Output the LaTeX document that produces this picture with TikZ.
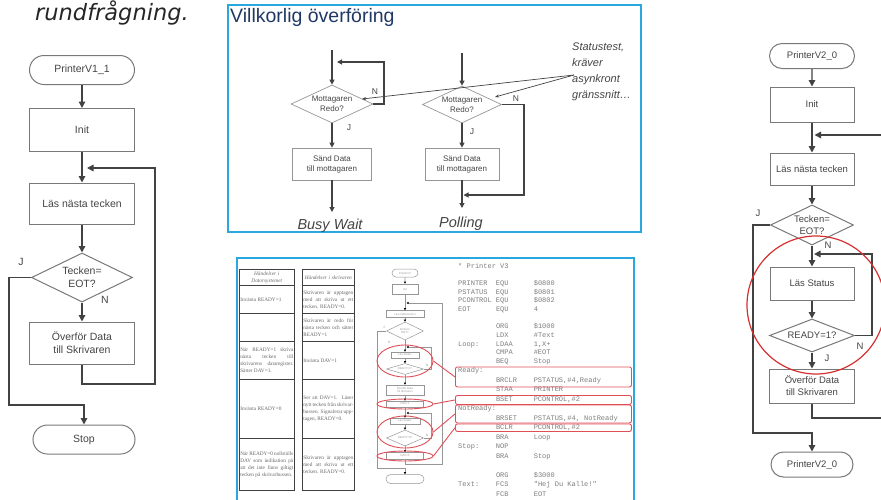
\documentclass[tikz,border=0pt]{standalone}
\usepackage{fontspec}
\setmainfont{Liberation Sans}
\newfontfamily\dvobl{DejaVu Sans Oblique}
\newfontfamily\monofont{Liberation Mono}
\newfontfamily\seriffont{Liberation Serif}
\usetikzlibrary{arrows.meta,shapes.geometric,shapes.misc}
\definecolor{frameblue}{RGB}{41,168,224}
\definecolor{redl}{RGB}{224,78,88}
\definecolor{redc}{RGB}{214,48,48}
\definecolor{lineg}{RGB}{66,66,66}
\definecolor{boxg}{RGB}{120,120,120}
\definecolor{txtg}{RGB}{68,68,68}
\definecolor{titleblue}{RGB}{32,56,100}
\definecolor{codeg}{RGB}{125,125,125}
\definecolor{lightg}{RGB}{150,150,150}
\begin{document}
\begin{tikzpicture}[x=1pt,y=-1pt,
  flow/.style={draw=lineg, line width=1.4pt},
  arr/.style={flow, -{Triangle[length=6.5pt,width=6.5pt]}},
  fbox/.style={draw=boxg, line width=1pt, rectangle, inner sep=0pt, align=center, text=txtg, font=\fontsize{10.5}{13}\selectfont},
  term/.style={fbox, rounded rectangle},
  dec/.style={fbox, diamond},
  lbl/.style={text=txtg, inner sep=0pt, font=\fontsize{10.5}{12}\selectfont},
  vflow/.style={draw=lineg, line width=1.1pt},
  varr/.style={vflow, -{Triangle[length=5pt,width=5pt]}},
  vbox/.style={draw=lightg, line width=0.7pt, rectangle, inner sep=0pt, align=center, text=txtg, font=\fontsize{8}{10}\selectfont},
  vdec/.style={vbox, diamond},
  vlbl/.style={text=txtg, inner sep=0pt, font=\fontsize{8.5}{10}\selectfont},
  notetext/.style={text=txtg, inner sep=0pt, align=left, font=\itshape\fontsize{11}{16}\selectfont},
  notearr/.style={draw=lineg, line width=0.7pt, -{Stealth[length=4pt,width=3pt]}},
  blueframe/.style={draw=frameblue, line width=1.4pt},
  cell/.style={draw=black!75, line width=0.6pt, rectangle, inner sep=1pt, anchor=north west, align=justify, text=black!60, font=\seriffont\fontsize{5.3}{7}\selectfont},
  mflow/.style={draw=lightg, line width=0.6pt},
  marr/.style={mflow, -{Triangle[length=2.2pt,width=2.2pt,color=black]}},
  mbox/.style={draw=lightg, line width=0.5pt, rectangle, inner sep=0pt, align=center, text=lightg, font=\fontsize{2.8}{3.2}\selectfont},
  mterm/.style={mbox, rounded rectangle},
  mdec/.style={mbox, diamond},
  mlbl/.style={text=lightg, inner sep=0pt, font=\fontsize{3.2}{4}\selectfont},
  redell/.style={draw=redl, line width=0.9pt, ellipse, inner sep=0pt},
  redbox/.style={draw=redl, line width=0.9pt, rectangle, rounded corners=2pt, inner sep=0pt, anchor=north west},
  redln/.style={draw=redl, line width=0.9pt},
]
\useasboundingbox (0,0) rectangle (881,499);

% ---------------- left flowchart ----------------
\node[anchor=base west, text=black!85, inner sep=0pt, font=\dvobl\fontsize{22.5}{26}\selectfont] (head) at (35,20.7) {rundfrågning.};
\node[term, minimum width=105pt, minimum height=29pt] (a1) at (82,70) {PrinterV1\_1};
\node[fbox, minimum width=105pt, minimum height=43pt] (a2) at (82,130) {Init};
\node[fbox, minimum width=105pt, minimum height=41pt] (a3) at (82,203.5) {Läs nästa tecken};
\node[dec, aspect=2.06, minimum width=101pt, minimum height=49pt] (a4) at (82,277.5) {Tecken=\\EOT?};
\node[fbox, minimum width=105pt, minimum height=42pt] (a5) at (82,343) {Överför Data\\till Skrivaren};
\node[term, minimum width=102pt, minimum height=29pt] (a6) at (84,439.5) {Stop};
\coordinate (a2in) at (87,168);
\draw[arr] (a1) -- (a2);
\draw[arr] (a2) -- (a3);
\draw[arr] (a3) -- (a4);
\draw[arr] (a4) -- (a5);
\draw[arr] (a5.south) -- (82,384) -- (155,384) -- (155,168) -- (a2in);
\draw[arr] (a4.west) -- (9,277.5) -- (9,405) -| (a6.north);
\node[lbl] (aJ) at (21,262) {J};
\node[lbl] (aN) at (105,300) {N};

% ---------------- top middle screenshot ----------------
\draw[blueframe] (228,5) rectangle (641,232);
\node[anchor=base west, text=titleblue, inner sep=0pt, font=\fontsize{19.5}{22}\selectfont] (vt) at (230,22.5) {Villkorlig överföring};
% Busy wait
\coordinate (bTop) at (332,50);
\node[vdec, aspect=2.16, minimum width=82pt, minimum height=38pt] (bD) at (332,104) {Mottagaren\\Redo?};
\node[vbox, minimum width=79pt, minimum height=32pt] (bB) at (332,164) {Sänd Data\\till mottagaren};
\coordinate (bIn) at (337,62);
\coordinate (bEnd) at (332,212);
\draw[varr] (bTop) -- (bD.north);
\draw[varr] (bD.east) -- (384,104) -- (384,62) -- (bIn);
\draw[varr] (bD) -- (bB);
\draw[varr] (bB) -- (bEnd);
\node[vlbl] (bN) at (375,92) {N};
\node[vlbl] (bJ) at (349,128) {J};
\node[text=txtg, inner sep=0pt, font=\itshape\fontsize{14.5}{16}\selectfont] (bw) at (330,226) {Busy Wait};
% Polling
\coordinate (pTop) at (462,53);
\node[vdec, aspect=2.13, minimum width=79pt, minimum height=37pt] (pD) at (462,104.5) {Mottagaren\\Redo?};
\node[vbox, minimum width=74pt, minimum height=32pt] (pB) at (462,164) {Sänd Data\\till mottagaren};
\coordinate (pIn) at (463.5,195);
\coordinate (pEnd) at (462,208);
\draw[varr] (pTop) -- (pD.north);
\draw[varr] (pD) -- (pB);
\draw[varr] (pB) -- (pEnd);
\draw[varr] (pD.east) -- (524,104.5) -- (524,195) -- (pIn);
\node[vlbl] (pN) at (516,99) {N};
\node[vlbl] (pJ) at (472,132) {J};
\node[text=txtg, inner sep=0pt, font=\itshape\fontsize{14.5}{16}\selectfont] (pw) at (461,224) {Polling};
% annotation
\node[notetext, anchor=north west] (st) at (572,43) {Statustest,\\kräver\\asynkront\\gränssnitt\dots};
\coordinate (stp) at (574,75);
\coordinate (bDt) at (362,99);
\coordinate (pDt) at (495,97);
\draw[notearr] (stp) -- (bDt);
\draw[notearr] (stp) -- (pDt);

% ---------------- bottom middle screenshot ----------------
\draw[blueframe] (237,258) rectangle (634,510);
% table 1
\node[cell, text width=53pt, minimum height=16pt, align=center] (t10) at (239,269) {\itshape Händelser i\\Datorsystemet};
\node[cell, text width=53pt, minimum height=28pt] (t11) at (239,285) {Invänta READY=1};
\node[cell, text width=53pt, minimum height=28pt] (t12) at (239,313) {};
\node[cell, text width=53pt, minimum height=38pt] (t13) at (239,341) {När READY=1 skriva nästa tecken till skrivarens dataregister. Sätter DAV=1.};
\node[cell, text width=53pt, minimum height=59pt] (t14) at (239,379) {Invänta READY=0};
\node[cell, text width=53pt, minimum height=52pt] (t15) at (239,438) {När READY=0 nollställs DAV som indikation på att det inte finns giltigt tecken på skrivarbussen.};
% table 2
\node[cell, text width=50pt, minimum height=16pt, align=center] (t20) at (302,269) {\itshape Händelser i skrivaren};
\node[cell, text width=50pt, minimum height=28pt] (t21) at (302,285) {Skrivaren är upptagen med att skriva ut ett tecken. READY=0.};
\node[cell, text width=50pt, minimum height=28pt] (t22) at (302,313) {Skrivaren är redo för nästa tecken och sätter READY=1};
\node[cell, text width=50pt, minimum height=38pt] (t23) at (302,341) {Invänta DAV=1};
\node[cell, text width=50pt, minimum height=59pt] (t24) at (302,379) {Ser att DAV=1. Läser nytt tecken från skrivarbussen. Signalerar upptagen, READY=0.};
\node[cell, text width=50pt, minimum height=52pt] (t25) at (302,438) {Skrivaren är upptagen med att skriva ut ett tecken. READY=0.};

% mini flowchart
\node[mterm, minimum width=26pt, minimum height=8pt] (m1) at (405,273) {PrinterV3};
\node[mbox, minimum width=26pt, minimum height=10pt] (m2) at (405,289) {Init};
\node[mbox, minimum width=38pt, minimum height=7pt] (m3) at (405,314) {Läs nästa tecken};
\node[mdec, aspect=2.06, minimum width=37pt, minimum height=18pt] (m4) at (405,331) {Tecken=\\EOT?};
\node[mbox, minimum width=28pt, minimum height=6pt] (m5) at (405,355) {Läs Status};
\node[mdec, aspect=3.36, minimum width=37pt, minimum height=11pt] (m6) at (405,369) {READY=1?};
\node[mbox, minimum width=38pt, minimum height=10pt] (m7) at (405,390) {Överför Data\\till Skrivaren};
\node[mbox, minimum width=37pt, minimum height=6pt] (m8) at (405,404) {DAV=1};
\node[mbox, minimum width=30pt, minimum height=6pt] (m9) at (405,421) {Läs Status};
\node[mdec, aspect=2.3, minimum width=37pt, minimum height=16pt] (m10) at (405,438) {READY=0?};
\node[mbox, minimum width=37pt, minimum height=7pt] (m11) at (405,456) {DAV=0};
\node[mterm, minimum width=38pt, minimum height=9pt] (m12) at (405,479) {};
\coordinate (mL0) at (406.5,303);
\coordinate (mL1) at (406.5,347);
\coordinate (mL2) at (406.5,413);
\draw[marr] (m1) -- (m2);
\draw[marr] (m2) -- (m3);
\draw[marr] (m3) -- (m4);
\draw[marr] (m4) -- (m5);
\draw[marr] (m5) -- (m6);
\draw[marr] (m6) -- (m7);
\draw[marr] (m7) -- (m8);
\draw[marr] (m8) -- (m9);
\draw[marr] (m9) -- (m10);
\draw[marr] (m10) -- (m11);
\draw[marr] (m6.east) -- (431,369) -- (431,347) -- (mL1);
\draw[marr] (m10.east) -- (431,438) -- (431,413) -- (mL2);
\draw[marr] (m11.south) -- (405,464) -- (442,464) -- (442,303) -- (mL0);
\draw[marr] (m4.west) -- (377,331) -- (377,468) -| (m12.north);
\node[mlbl] (mJ) at (384,327) {J};
\node[mlbl] (mN1) at (389,342) {N};
\node[mlbl] (mN2) at (427,365) {N};
\node[mlbl] (mN3) at (427,435) {N};

% code listing
\node[anchor=north west, inner sep=0pt, text=codeg, font=\monofont\fontsize{7}{8.65}\selectfont] (code) at (458,262) {%
\begin{tabular}{@{}p{37.8pt}@{}p{37.8pt}@{}l@{}}
\multicolumn{3}{@{}l@{}}{* Printer V3}\\
 & & \\
PRINTER & EQU & \$0800\\
PSTATUS & EQU & \$0801\\
PCONTROL & EQU & \$0802\\
EOT & EQU & 4\\
 & & \\
 & ORG & \$1000\\
 & LDX & \#Text\\
Loop: & LDAA & 1,X+\\
 & CMPA & \#EOT\\
 & BEQ & Stop\\[0.85pt]
\multicolumn{3}{@{}l@{}}{Ready:}\\[0.85pt]
 & BRCLR & PSTATUS,\#4,Ready\\[0.85pt]
 & STAA & PRINTER\\[0.85pt]
 & BSET & PCONTROL,\#2\\[0.85pt]
\multicolumn{3}{@{}l@{}}{NotReady:}\\[0.85pt]
 & BRSET & PSTATUS,\#4, NotReady\\[0.85pt]
 & BCLR & PCONTROL,\#2\\[0.85pt]
 & BRA & Loop\\[0.85pt]
Stop: & NOP & \\[0.85pt]
 & BRA & Stop\\[0.85pt]
 & & \\[0.85pt]
 & ORG & \$3000\\[0.85pt]
Text: & FCS & "Hej Du Kalle!"\\[0.85pt]
 & FCB & EOT
\end{tabular}};

% red highlights
\node[redell, minimum width=56pt, minimum height=32pt] (e1) at (405,361) {};
\node[redell, minimum width=56pt, minimum height=10pt] (e2) at (405,404) {};
\node[redell, minimum width=56pt, minimum height=32pt] (e3) at (405,432) {};
\node[redell, minimum width=56pt, minimum height=10pt] (e4) at (405,456) {};
\node[redbox, minimum width=176pt, minimum height=20pt] (r1) at (455,366.5) {};
\node[redbox, minimum width=176pt, minimum height=9pt] (r2) at (455,395) {};
\node[redbox, minimum width=176pt, minimum height=18pt] (r3) at (455,404.5) {};
\node[redbox, minimum width=176pt, minimum height=7.5pt] (r4) at (455,423.5) {};
\draw[redln] (e1.east) -- (r1.west);
\draw[redln] (e2.east) -- (r2.west);
\draw[redln] (e3.east) -- (r3.west);
\draw[redln] (e4.east) -- (r4.west);

% ---------------- right flowchart ----------------
\node[term, font=\fontsize{9.5}{12}\selectfont, minimum width=85pt, minimum height=25pt] (c1) at (812,56) {PrinterV2\_0};
\node[fbox, font=\fontsize{9.5}{12}\selectfont, minimum width=84pt, minimum height=35pt] (c2) at (812,104.5) {Init};
\node[fbox, font=\fontsize{9.5}{12}\selectfont, minimum width=84pt, minimum height=32pt] (c3) at (812,169) {Läs nästa tecken};
\node[dec, font=\fontsize{9.5}{12}\selectfont, aspect=2.08, minimum width=83pt, minimum height=40pt] (c4) at (812,225) {Tecken=\\EOT?};
\node[fbox, font=\fontsize{9.5}{12}\selectfont, minimum width=84pt, minimum height=33pt] (c5) at (812,283.5) {Läs Status};
\node[dec, font=\fontsize{9.5}{12}\selectfont, aspect=2.58, minimum width=85pt, minimum height=33pt] (c6) at (812,335.5) {READY=1?};
\node[fbox, font=\fontsize{9.5}{12}\selectfont, minimum width=85pt, minimum height=34pt] (c7) at (812,386) {Överför Data\\till Skrivaren};
\node[term, font=\fontsize{9.5}{12}\selectfont, minimum width=82pt, minimum height=25pt] (c8) at (812,464.5) {PrinterV2\_0};
\coordinate (cin1) at (814.5,135);
\coordinate (cR1) at (890,135);
\coordinate (cin2) at (814,254);
\coordinate (cR2) at (890,418);
\draw[arr] (c1) -- (c2);
\draw[arr] (c2) -- (c3);
\draw[arr] (cR1) -- (cin1);
\draw[arr] (c3) -- (c4);
\draw[arr] (c4) -- (c5);
\draw[arr] (c5) -- (c6);
\draw[arr] (c6) -- (c7);
\draw[arr] (c6.east) -- (872,335.5) -- (872,254) -- (cin2);
\draw[flow] (c7.south) -- (812,418) -- (cR2);
\draw[arr] (c4.west) -- (753,225) -- (753,433) -| (c8.north);
\node[lbl, font=\fontsize{9.5}{12}\selectfont] (cJ1) at (758,213) {J};
\node[lbl, font=\fontsize{9.5}{12}\selectfont] (cN1) at (828,245) {N};
\node[lbl, font=\fontsize{9.5}{12}\selectfont] (cN2) at (860,346) {N};
\node[lbl, font=\fontsize{9.5}{12}\selectfont] (cJ2) at (827,358) {J};
\node[draw=redc, line width=1.2pt, circle, minimum size=138pt, inner sep=0pt] (circ) at (816,305) {};
\end{tikzpicture}
\end{document}
